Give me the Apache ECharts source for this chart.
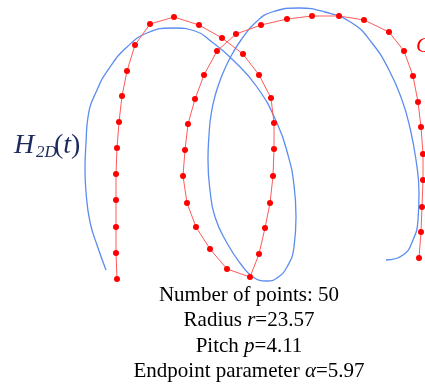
<!DOCTYPE html>
<html>
<head>
<meta charset="utf-8">
<script src="https://cdn.jsdelivr.net/npm/echarts@6/dist/echarts.min.js"></script>
<style>
  html, body { margin: 0; padding: 0; background: #fff; }
  #chart { width: 425px; height: 384px; }
</style>
</head>
<body>
<div id="chart"></div>
<script>
// Sampled curve C: 50 points along the fitted helix projection
const curveX = [117, 116, 116, 116, 116, 117, 119, 122, 127, 135,
                150, 174, 199, 222, 243, 259, 271, 274, 274, 273,
                270, 265, 259, 250, 227, 210, 196, 187, 183, 185,
                188, 195, 204, 217, 236, 261, 287, 312, 339, 364,
                389, 404, 413, 418, 421, 423, 423, 422, 421, 419];
const curveY = [279, 253, 227, 200, 174, 148, 122, 96, 71, 45,
                24, 17, 25, 38, 54, 75, 98, 123, 149, 176,
                203, 228, 254, 277, 269, 249, 227, 203, 176, 150,
                124, 99, 75, 51, 34, 25, 19, 16, 16, 20,
                32, 51, 76, 102, 127, 154, 180, 207, 232, 258];

// Projected helix H_2D(t), traced as a continuous path
const helixX = [106, 97, 90, 86, 85, 86, 88, 97, 110, 127,
                147, 173, 195, 212, 233, 257, 277, 288, 294, 296,
                294, 287, 277, 267, 253, 240, 227, 215, 210, 208,
                209, 211, 215, 221, 230, 241, 255, 272, 299, 325,
                352, 372, 389, 402, 410, 416, 419, 418, 413, 403, 386];
const helixY = [270, 245, 222, 192, 170, 143, 117, 90, 67, 47,
                33, 28, 31, 42, 60, 87, 123, 155, 185, 217,
                247, 267, 278, 281, 277, 263, 243, 217, 190, 160,
                135, 115, 96, 78, 58, 40, 23, 12, 8, 12,
                23, 43, 70, 100, 128, 160, 193, 220, 240, 255, 260];

// Caption lines
const infoLines = [
  '{n|Number of points: 50}',
  '{n|Radius }{i|r}{n|=23.57}',
  '{n|Pitch }{i|p}{n|=4.11}',
  '{n|Endpoint parameter }{i|\u03b1}{n|=5.97}'
];

const serif = '"Liberation Serif", "Times New Roman", serif';
const pairs = (xs, ys) => xs.map((x, i) => [x, ys[i]]);

const chart = echarts.init(document.getElementById('chart'), null, { renderer: 'canvas' });

const captionGraphics = infoLines.map((txt, i) => ({
  type: 'text',
  x: 249,
  y: 295.5 + i * 25.3,
  style: {
    text: txt,
    align: 'center',
    verticalAlign: 'middle',
    rich: {
      n: { font: '21px ' + serif, fill: '#000' },
      i: { font: 'italic 21px ' + serif, fill: '#000' }
    }
  }
}));

const navy = '#1c2b5e';

chart.setOption({
  animation: false,
  backgroundColor: '#fff',
  grid: { left: 0, right: 0, top: 0, bottom: 0 },
  xAxis: { type: 'value', min: 0, max: 425, show: false },
  yAxis: { type: 'value', min: 0, max: 384, inverse: true, show: false },
  series: [
    {
      type: 'line',
      data: pairs(helixX, helixY),
      smooth: 0.5,
      showSymbol: false,
      clip: false,
      lineStyle: { color: '#5b8def', width: 1.3 },
      z: 1
    },
    {
      type: 'line',
      data: pairs(curveX, curveY),
      smooth: false,
      symbol: 'circle',
      symbolSize: 6,
      clip: false,
      itemStyle: { color: '#ff0000', borderWidth: 0 },
      lineStyle: { color: '#ff5a5a', width: 1 },
      z: 2
    }
  ],
  graphic: [
    { type: 'text', x: 14, y: 146, style: { text: 'H', font: 'italic 28px ' + serif, fill: navy, align: 'left', verticalAlign: 'middle' } },
    { type: 'text', x: 36, y: 153, style: { text: '2D', font: 'italic 17px ' + serif, fill: navy, align: 'left', verticalAlign: 'middle' } },
    { type: 'text', x: 54, y: 146, style: { text: '({t|t})', font: '28px ' + serif, fill: navy, align: 'left', verticalAlign: 'middle',
        rich: { t: { font: 'italic 28px ' + serif, fill: navy } } } },
    { type: 'text', x: 416, y: 46, style: { text: 'C', font: 'italic 22px ' + serif, fill: '#ff0000', align: 'left', verticalAlign: 'middle' } }
  ].concat(captionGraphics)
});
</script>
</body>
</html>
